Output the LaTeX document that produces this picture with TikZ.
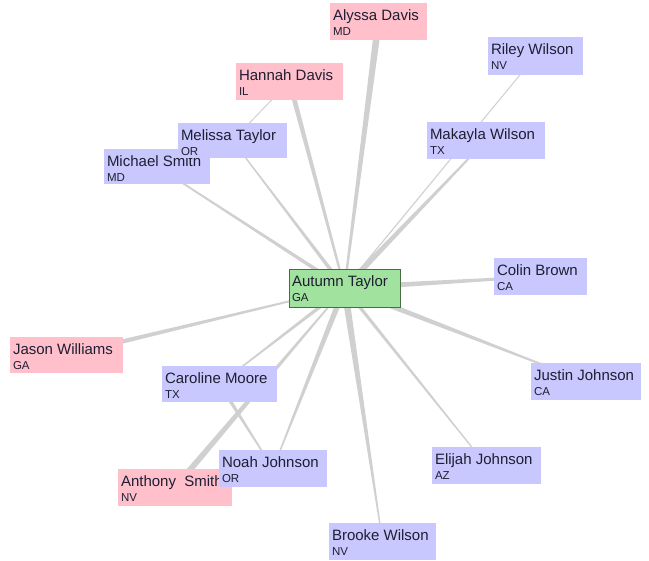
\documentclass[tikz,border=0pt]{standalone}
\usepackage{fontspec}
\setmainfont{Liberation Sans}
\usetikzlibrary{calc}
\definecolor{edgec}{RGB}{208,208,208}
\definecolor{pinkc}{RGB}{255,192,203}
\definecolor{bluec}{RGB}{200,200,255}
\definecolor{greenc}{RGB}{160,226,158}
\definecolor{greenb}{RGB}{70,110,70}
\definecolor{txtc}{RGB}{30,30,50}
\pgfdeclarelayer{back}
\pgfdeclarelayer{bg}
\pgfsetlayers{back,bg,main}
\tikzset{
  box/.style={rectangle, inner sep=0pt, outer sep=0pt},
  pinkbox/.style={box, fill=pinkc},
  bluebox/.style={box, fill=bluec},
  greenbox/.style={box, fill=greenc, draw=greenb, line width=0.8pt},
  nametext/.style={inner sep=0pt, outer sep=0pt, anchor=base west, text=txtc, font=\fontsize{15}{18}\selectfont},
  statetext/.style={inner sep=0pt, outer sep=0pt, anchor=base west, text=txtc, font=\fontsize{11.5}{13}\selectfont},
}
\newcommand\person[8]{%
  \pgfmathsetmacro\bw{#4-#2}%
  \pgfmathsetmacro\bh{#5-#3}%
  \node[#6, minimum width=\bw pt, minimum height=\bh pt, anchor=north west] (#1) at (#2,#3) {};
  \node[nametext] (#1-n) at (#2+3,#3+17.5) {#7};
  \node[statetext] (#1-s) at (#2+3,#3+33) {#8};
}
\newcommand\taper[4]{%
  \fill[edgec] ($(#1)!#3!90:(#2)$) -- ($(#2)!#4!-90:(#1)$) -- ($(#2)!#4!90:(#1)$) -- ($(#1)!#3!-90:(#2)$) -- cycle;
}
\begin{document}
\begin{tikzpicture}[x=1pt,y=-1pt]
\begin{pgfonlayer}{back}
\fill[white] (0,0) rectangle (649,561);
\end{pgfonlayer}
\useasboundingbox (0,0) rectangle (649,561);
\person{alyssa}{330}{3}{427}{40}{pinkbox}{Alyssa Davis}{MD}
\person{hannah}{236}{63}{343}{100}{pinkbox}{Hannah Davis}{IL}
\person{riley}{488}{37}{583}{75}{bluebox}{Riley Wilson}{NV}
\person{michael}{104}{149}{210}{184}{bluebox}{Michael Smith}{MD}
\person{melissa}{178}{123}{287}{158}{bluebox}{Melissa Taylor}{OR}
\person{makayla}{427}{122}{545}{159}{bluebox}{Makayla Wilson}{TX}
\person{autumn}{289}{269}{400}{307}{greenbox}{Autumn Taylor}{GA}
\person{colin}{494}{258}{587}{295}{bluebox}{Colin Brown}{CA}
\person{jason}{10}{337}{123}{373}{pinkbox}{Jason Williams}{GA}
\person{caroline}{162}{366}{277}{402}{bluebox}{Caroline Moore}{TX}
\person{justin}{531}{363}{641}{400}{bluebox}{Justin Johnson}{CA}
\person{anthony}{118}{469}{232}{506}{pinkbox}{Anthony\ \ Smith}{NV}
\person{noah}{219}{450}{327}{487}{bluebox}{Noah Johnson}{OR}
\person{elijah}{432}{447}{541}{484}{bluebox}{Elijah Johnson}{AZ}
\person{brooke}{329}{523}{436}{560}{bluebox}{Brooke Wilson}{NV}
\begin{pgfonlayer}{bg}
\taper{autumn}{alyssa}{1pt}{3.5pt}
\taper{autumn}{hannah}{1pt}{2.5pt}
\taper{autumn}{melissa}{2pt}{0.5pt}
\taper{autumn}{michael}{2pt}{0.7pt}
\taper{autumn}{riley}{0.6pt}{0.5pt}
\taper{autumn}{makayla}{3pt}{0.7pt}
\taper{autumn}{colin}{3pt}{1pt}
\taper{autumn}{justin}{3pt}{0.5pt}
\taper{autumn}{elijah}{1.8pt}{0.5pt}
\taper{autumn}{brooke}{3.5pt}{0.5pt}
\taper{autumn}{noah}{3pt}{0.5pt}
\taper{autumn}{caroline}{2pt}{0.5pt}
\taper{autumn}{jason}{0.6pt}{2.5pt}
\taper{autumn}{anthony}{0.6pt}{3.2pt}
\taper{caroline}{noah}{2pt}{0.5pt}
\taper{hannah}{melissa}{0.5pt}{0.5pt}
\end{pgfonlayer}
\end{tikzpicture}
\end{document}
